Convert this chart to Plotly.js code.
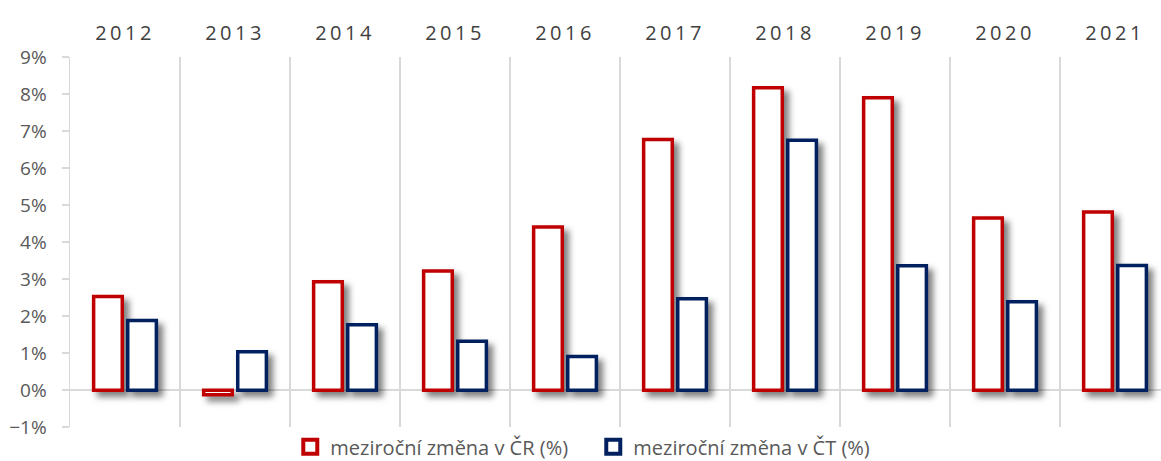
<!DOCTYPE html>
<html>
<head>
<meta charset="utf-8">
<script src="https://cdn.plot.ly/plotly-3.0.1.min.js"></script>
<style>
  html, body { margin: 0; padding: 0; background: #fff; }
  #chart { width: 1161px; height: 461px; }
  .trace.bars .point path { filter: drop-shadow(5px 5px 3px rgba(0,0,0,0.5)); }
  .xtick text { letter-spacing: 3.5px; }
</style>
</head>
<body>
<div id="chart"></div>
<script>
const years = ['2012','2013','2014','2015','2016','2017','2018','2019','2020','2021'];
const changeCR = [2.53, -0.12, 2.93, 3.22, 4.41, 6.77, 8.17, 7.90, 4.65, 4.81];
const changeCT = [1.88, 1.04, 1.77, 1.32, 0.91, 2.47, 6.75, 3.36, 2.39, 3.37];
const nameCR = 'meziroční změna v ČR (%)';
const nameCT = 'meziroční změna v ČT (%)';
const colorCR = '#C00000';
const colorCT = '#002060';

const traces = [
  { type: 'bar', x: years, y: changeCR, name: nameCR, legendgroup: 'cr', showlegend: false,
    marker: { color: '#ffffff', line: { color: colorCR, width: 3.5 } }, hoverinfo: 'skip' },
  { type: 'bar', x: years, y: changeCT, name: nameCT, legendgroup: 'ct', showlegend: false,
    marker: { color: '#ffffff', line: { color: colorCT, width: 3.5 } }, hoverinfo: 'skip' },
  // legend entries only
  { type: 'scatter', mode: 'markers', x: [null], y: [null], name: nameCR, legendgroup: 'cr',
    marker: { symbol: 'square', size: 14, color: '#ffffff', line: { color: colorCR, width: 4 } } },
  { type: 'scatter', mode: 'markers', x: [null], y: [null], name: nameCT, legendgroup: 'ct',
    marker: { symbol: 'square', size: 14, color: '#ffffff', line: { color: colorCT, width: 4 } } }
];

const layout = {
  width: 1161, height: 461,
  margin: { l: 70, r: 0, t: 57, b: 32 },
  paper_bgcolor: '#ffffff', plot_bgcolor: '#ffffff',
  font: { family: '"Open Sans", sans-serif', color: '#595959', size: 18 },
  barmode: 'group', bargap: 0.38, bargroupgap: 0.16,
  showlegend: true,
  legend: { orientation: 'h', xref: 'container', yref: 'container',
            x: 0.511, xanchor: 'center', y: 0.031, yanchor: 'middle',
            font: { size: 20, color: '#595959' }, itemwidth: 30, traceorder: 'normal',
            entrywidth: 258, entrywidthmode: 'pixels',
            bgcolor: 'rgba(0,0,0,0)' },
  xaxis: {
    type: 'category', side: 'top', range: [-0.5, 9.418],
    tickson: 'boundaries', showgrid: true, gridcolor: '#d9d9d9', gridwidth: 1.5,
    ticks: '', showline: false, zeroline: false,
    tickfont: { size: 20, color: '#404040' }, ticklabelstandoff: 12
  },
  yaxis: {
    range: [-1, 9], dtick: 1, tick0: 0, ticksuffix: '%',
    showgrid: false, zeroline: true, zerolinecolor: '#d9d9d9', zerolinewidth: 2,
    showline: true, linecolor: '#d9d9d9', linewidth: 1.5,
    ticks: 'outside', ticklen: 7, tickcolor: '#d9d9d9', tickwidth: 1.5,
    tickfont: { size: 19, color: '#595959' }, ticklabelstandoff: 11
  }
};

Plotly.newPlot('chart', traces, layout, { staticPlot: true, displayModeBar: false });
</script>
</body>
</html>
